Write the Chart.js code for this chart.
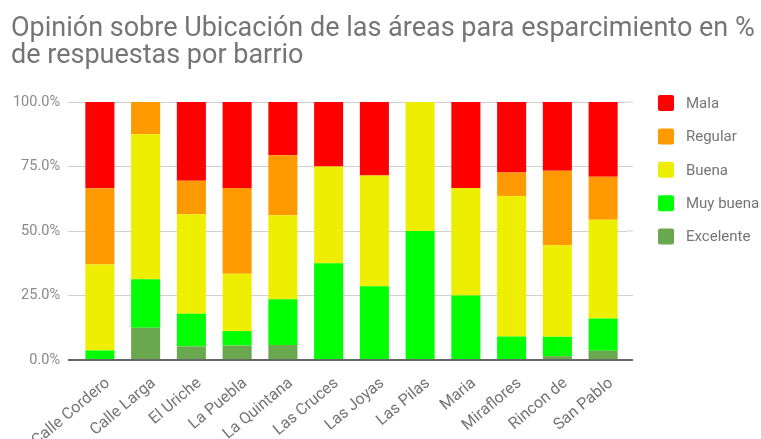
<!DOCTYPE html>
<html>
<head>
<meta charset="utf-8">
<script src="https://cdn.jsdelivr.net/npm/chart.js@4"></script>
<style>
  html, body { margin: 0; padding: 0; background: #fff; }
  #wrap { width: 761px; height: 439px; overflow: hidden; }
</style>
</head>
<body>
<div id="wrap"><canvas id="chart" width="761" height="439"></canvas></div>
<script>
// Barrios
const barrios = ['Calle Cordero', 'Calle Larga', 'El Uriche', 'La Puebla', 'La Quintana', 'Las Cruces',
                 'Las Joyas', 'Las Pilas', 'Maria', 'Miraflores', 'Rincon de', 'San Pablo'];

// % de respuestas por barrio
const excelente = [0,    12.5, 5.3,  5.6,  5.8,  0,    0,    0,  0,    0,    1.5,  3.6];
const muyBuena  = [3.7,  18.8, 12.6, 5.6,  17.7, 37.5, 28.6, 50, 25,   9.1,  7.5,  12.5];
const buena     = [33.3, 56.2, 38.6, 22.2, 32.6, 37.5, 42.9, 50, 41.7, 54.5, 35.5, 38.3];
const regular   = [29.6, 12.5, 13.0, 33.3, 23.3, 0,    0,    0,  0,    9.1,  28.9, 16.6];
const mala      = [33.4, 0,    30.5, 33.3, 20.6, 25,   28.5, 0,  33.3, 27.3, 26.6, 29.0];

const yTicks = [0, 25, 50, 75, 100];

const gris = '#757575';

// de abajo hacia arriba
const series = [
    { label: 'Excelente', data: excelente, color: '#6aa84f' },
    { label: 'Muy buena', data: muyBuena,  color: '#00ff00' },
    { label: 'Buena',     data: buena,     color: '#eeee00' },
    { label: 'Regular',   data: regular,   color: '#ff9900' },
    { label: 'Mala',      data: mala,      color: '#ff0000' }
];

// leyenda a la derecha, Mala arriba
const leyendaPlugin = {
    id: 'leyenda',
    afterDraw(chart) {
        const c = chart.ctx;
        const sets = chart.data.datasets.slice().reverse();
        c.save();
        c.font = '15px Roboto';
        c.textBaseline = 'middle';
        sets.forEach((ds, k) => {
            const y = 103 + k * 33.4;
            c.fillStyle = ds.backgroundColor;
            c.beginPath();
            c.roundRect(658, y - 8, 16, 16, 2);
            c.fill();
            c.fillStyle = gris;
            c.fillText(ds.label, 686, y + 1);
        });
        c.restore();
    }
};

// las líneas de la cuadrícula sobresalen un poco a la derecha
const gridExtra = {
    id: 'gridExtra',
    beforeDatasetsDraw(chart) {
        const c = chart.ctx;
        const y = chart.scales.y;
        const right = chart.chartArea.right;
        c.save();
        y.ticks.forEach(t => {
            const py = y.getPixelForValue(t.value);
            c.strokeStyle = t.value === 0 ? '#666' : '#d0d0d0';
            c.lineWidth = t.value === 0 ? 2 : 1;
            c.beginPath();
            c.moveTo(right, py);
            c.lineTo(right + 7, py);
            c.stroke();
        });
        c.restore();
    }
};

const ctx = document.getElementById('chart').getContext('2d');
new Chart(ctx, {
    type: 'bar',
    data: {
        labels: barrios,
        datasets: series.map(s => ({
            label: s.label,
            data: s.data,
            backgroundColor: s.color,
            borderWidth: 0,
            barPercentage: 0.635,
            categoryPercentage: 1
        }))
    },
    options: {
        responsive: false,
        animation: false,
        layout: {
            padding: { left: 11, right: 0, top: 0, bottom: 0 }
        },
        plugins: {
            title: {
                display: true,
                align: 'start',
                text: ['Opinión sobre Ubicación de las áreas para esparcimiento en %', 'de respuestas por barrio'],
                color: gris,
                font: { family: 'Roboto', size: 27, weight: 'normal', lineHeight: 1.0 },
                padding: { top: 15.5, bottom: 32.5 }
            },
            legend: { display: false },
            tooltip: { enabled: false }
        },
        scales: {
            x: {
                stacked: true,
                grid: { display: false },
                border: { display: false },
                afterFit: axis => { axis.height = 79; },
                ticks: {
                    color: gris,
                    font: { family: 'Roboto', size: 16 },
                    minRotation: 40,
                    maxRotation: 40,
                    autoSkip: false,
                    labelOffset: 8,
                    padding: 6
                }
            },
            y: {
                stacked: true,
                min: 0,
                max: 100,
                afterBuildTicks: axis => {
                    axis.ticks = yTicks.map(v => ({ value: v }));
                },
                afterFit: axis => { axis.width = 66; },
                border: { display: false },
                grid: {
                    color: c => c.tick.value === 0 ? '#666' : '#d0d0d0',
                    lineWidth: c => c.tick.value === 0 ? 2 : 1,
                    drawTicks: true,
                    tickLength: 9
                },
                ticks: {
                    color: '#8a8a8a',
                    font: { family: 'Roboto', size: 14.5 },
                    padding: 8,
                    callback: v => v.toFixed(1) + '%'
                }
            },
            // espacio reservado para la leyenda
            hueco: {
                type: 'linear',
                position: 'right',
                grid: { display: false },
                border: { display: false },
                ticks: { display: false },
                afterFit: axis => { axis.width = 135; }
            }
        }
    },
    plugins: [leyendaPlugin, gridExtra]
});
</script>
</body>
</html>
